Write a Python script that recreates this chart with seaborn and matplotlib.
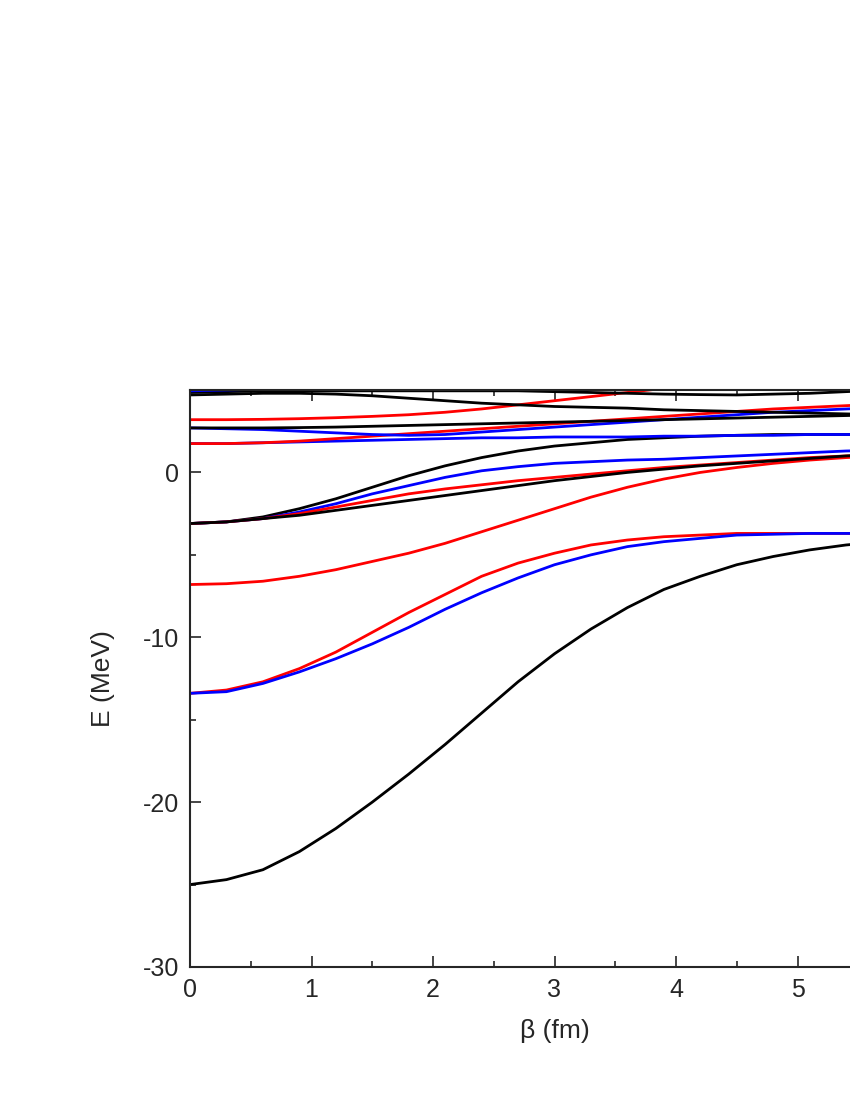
import matplotlib
matplotlib.use("Agg")
import matplotlib.pyplot as plt
import seaborn as sns
import numpy as np
import pandas as pd

beta = [round(0.3*i, 1) for i in range(21)]
black1 = [-25,-24.7,-24.1,-23,-21.6,-20,-18.3,-16.5,-14.6,-12.7,-11,-9.5,-8.2,-7.1,-6.3,-5.6,-5.1,-4.7,-4.4,-4.2,-4.0]
red1 = [-13.4,-13.2,-12.7,-11.9,-10.9,-9.7,-8.5,-7.4,-6.3,-5.5,-4.9,-4.4,-4.1,-3.9,-3.8,-3.7,-3.7,-3.7,-3.7,-3.7,-3.7]
blue1 = [-13.4,-13.3,-12.8,-12.1,-11.3,-10.4,-9.4,-8.3,-7.3,-6.4,-5.6,-5.0,-4.5,-4.2,-4.0,-3.8,-3.75,-3.7,-3.7,-3.7,-3.7]
red2 = [-6.8,-6.75,-6.6,-6.3,-5.9,-5.4,-4.9,-4.3,-3.6,-2.9,-2.2,-1.5,-0.9,-0.4,0.0,0.3,0.55,0.75,0.9,1.0,1.1]
black2 = [-3.1,-3.0,-2.7,-2.2,-1.6,-0.9,-0.2,0.4,0.9,1.3,1.6,1.8,2.0,2.1,2.2,2.25,2.3,2.3,2.3,2.3,2.3]
blue2 = [-3.1,-3.0,-2.8,-2.4,-1.9,-1.3,-0.8,-0.3,0.1,0.35,0.55,0.65,0.75,0.8,0.9,1.0,1.1,1.2,1.3,1.35,1.4]
red3 = [-3.1,-3.0,-2.8,-2.5,-2.1,-1.7,-1.3,-1.0,-0.75,-0.5,-0.3,-0.1,0.1,0.3,0.45,0.6,0.75,0.9,1.0,1.1,1.2]
black3 = [-3.1,-3.0,-2.8,-2.6,-2.3,-2.0,-1.7,-1.4,-1.1,-0.8,-0.5,-0.25,0.0,0.2,0.4,0.55,0.7,0.85,1.0,1.1,1.2]
blue3 = [1.75,1.75,1.8,1.85,1.9,1.95,2.0,2.05,2.1,2.1,2.15,2.15,2.15,2.2,2.2,2.25,2.25,2.3,2.3,2.3,2.3]
red4 = [1.75,1.75,1.8,1.9,2.05,2.2,2.35,2.5,2.65,2.8,2.95,3.1,3.25,3.4,3.55,3.7,3.85,3.95,4.05,4.15,4.25]
blue4 = [2.7,2.65,2.6,2.5,2.4,2.3,2.25,2.3,2.45,2.6,2.75,2.9,3.05,3.2,3.35,3.5,3.65,3.75,3.85,3.95,4.0]
black4 = [2.7,2.7,2.7,2.72,2.75,2.8,2.85,2.9,2.95,3.0,3.05,3.1,3.15,3.2,3.25,3.3,3.35,3.4,3.45,3.5,3.6]
red5 = [3.2,3.2,3.22,3.26,3.32,3.4,3.5,3.65,3.85,4.1,4.35,4.6,4.85,5.1,5.4,5.7,6.0,6.3,6.6,6.9,7.2]
black5 = [4.7,4.75,4.8,4.8,4.75,4.65,4.5,4.35,4.2,4.1,4.0,3.95,3.9,3.8,3.75,3.7,3.65,3.6,3.55,3.5,3.5]
black6 = [4.85,4.9,4.95,4.95,4.95,4.95,4.95,4.95,4.95,4.95,4.9,4.85,4.8,4.75,4.72,4.7,4.75,4.8,4.9,5.0,5.1]
blue5 = [4.95,5.0,5.05,5.1,5.15,5.2,5.3,5.4,5.5,5.6,5.7,5.8,5.9,6.0,6.1,6.2,6.3,6.4,6.5,6.6,6.7]

series = [("k", black1), ("r", red1), ("b", blue1), ("r", red2), ("k", black2), ("b", blue2),
          ("r", red3), ("k", black3), ("b", blue3), ("r", red4), ("b", blue4), ("k", black4),
          ("r", red5), ("k", black5), ("k", black6), ("b", blue5)]
colors = {"k": "black", "r": "red", "b": "blue"}

sns.set_style("ticks")
plt.rcParams['font.family'] = ['Liberation Sans', 'DejaVu Sans']
plt.rcParams['axes.unicode_minus'] = False
fig = plt.figure(figsize=(8.5, 11), dpi=100)
ax = fig.add_axes([190/850, 1-967/1100, 729/850, (967-390)/1100])
for c, vals in series:
    df = pd.DataFrame({"beta": beta, "E": vals})
    sns.lineplot(data=df, x="beta", y="E", color=colors[c], lw=2, ax=ax, legend=False)
ax.set_xlim(0, 6)
ax.set_ylim(-30, 5)
ax.set_xticks([0, 1, 2, 3, 4, 5])
ax.set_yticks([-30, -20, -10, 0])
ax.set_xticks(np.arange(0.5, 6, 1), minor=True)
ax.set_yticks(np.arange(-25, 5, 10), minor=True)
ax.tick_params(which="both", direction="in", top=True, right=True)
ax.tick_params(which="major", length=8, width=1.2, labelsize=18, pad=8)
ax.tick_params(which="minor", length=4, width=1.2)
for s in ax.spines.values():
    s.set_linewidth(1.5)
ax.set_xlabel("β (fm)", fontsize=19, labelpad=12)
ax.set_ylabel("E (MeV)", fontsize=19, labelpad=20)
fig.savefig("out.png", dpi=100)
